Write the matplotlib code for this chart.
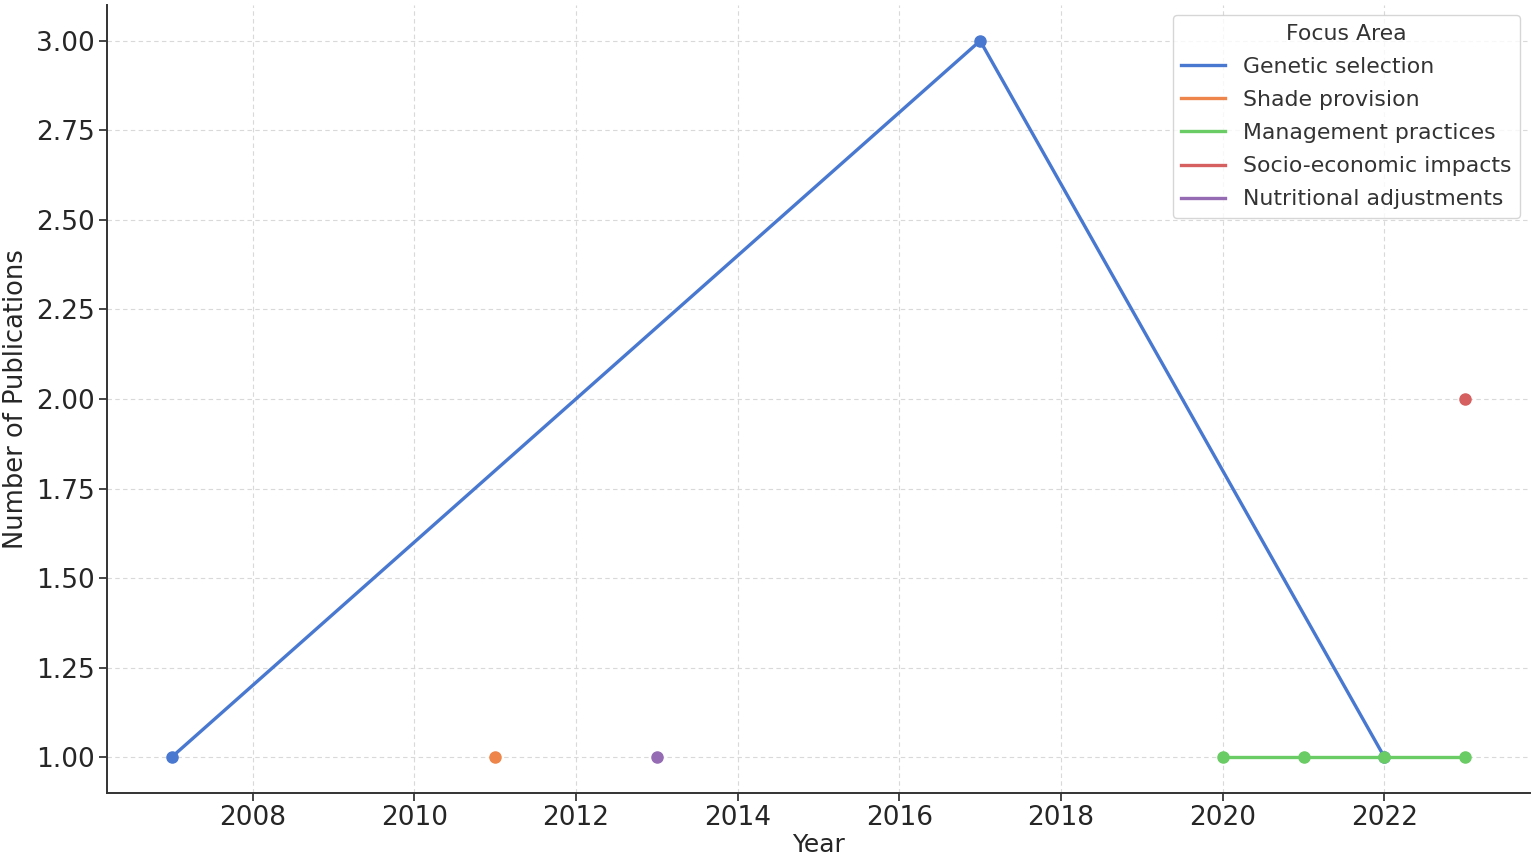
import matplotlib
matplotlib.use("Agg")
import matplotlib.pyplot as plt

# publications per year for each focus area
genetic_years = [2007, 2017, 2022]
genetic_counts = [1, 3, 1]
shade_years = [2011]
shade_counts = [1]
management_years = [2020, 2021, 2022, 2023]
management_counts = [1, 1, 1, 1]
socio_years = [2023]
socio_counts = [2]
nutrition_years = [2013]
nutrition_counts = [1]

series = [
    ("Genetic selection", genetic_years, genetic_counts, "#4878d0"),
    ("Shade provision", shade_years, shade_counts, "#ee854a"),
    ("Management practices", management_years, management_counts, "#6acc64"),
    ("Socio-economic impacts", socio_years, socio_counts, "#d65f5f"),
    ("Nutritional adjustments", nutrition_years, nutrition_counts, "#956cb4"),
]

plt.rcParams["font.family"] = "DejaVu Sans"
fig = plt.figure(figsize=(15.35, 8.58), dpi=100)
ax = fig.add_axes([0.0697, 0.0758, 0.927, 0.9184])

handles = []
for name, xs, ys, col in series:
    ax.plot(xs, ys, color=col, lw=2.4, marker="o", ms=8, mec=col, zorder=3)
    h, = ax.plot([], [], color=col, lw=2.4, label=name)
    handles.append(h)

ax.grid(True, linestyle=(0, (4, 3)), color="#d9d9d9", lw=0.8)
ax.set_axisbelow(True)
for s in ["top", "right"]:
    ax.spines[s].set_visible(False)
for s in ["left", "bottom"]:
    ax.spines[s].set_color("#333333")
    ax.spines[s].set_linewidth(1.4)

ax.set_xticks([2008, 2010, 2012, 2014, 2016, 2018, 2020, 2022])
ax.set_yticks([1.0, 1.25, 1.5, 1.75, 2.0, 2.25, 2.5, 2.75, 3.0])
ax.set_yticklabels(["%.2f" % v for v in ax.get_yticks()])
ax.tick_params(labelsize=19, colors="#262626", length=6, width=1.2, pad=3)
ax.set_xlabel("Year", fontsize=18, color="#262626", labelpad=1)
ax.set_ylabel("Number of Publications", fontsize=18.5, color="#262626", labelpad=5)

leg = ax.legend(handles=handles, title="Focus Area", loc="upper right",
                fontsize=15.8, title_fontsize=15.8, frameon=True,
                borderaxespad=0.45, handlelength=2.0, labelspacing=0.6)
leg.get_frame().set_edgecolor("#cccccc")
for t in leg.get_texts():
    t.set_color("#333333")
leg.get_title().set_color("#333333")

fig.savefig("out.png", dpi=100)
